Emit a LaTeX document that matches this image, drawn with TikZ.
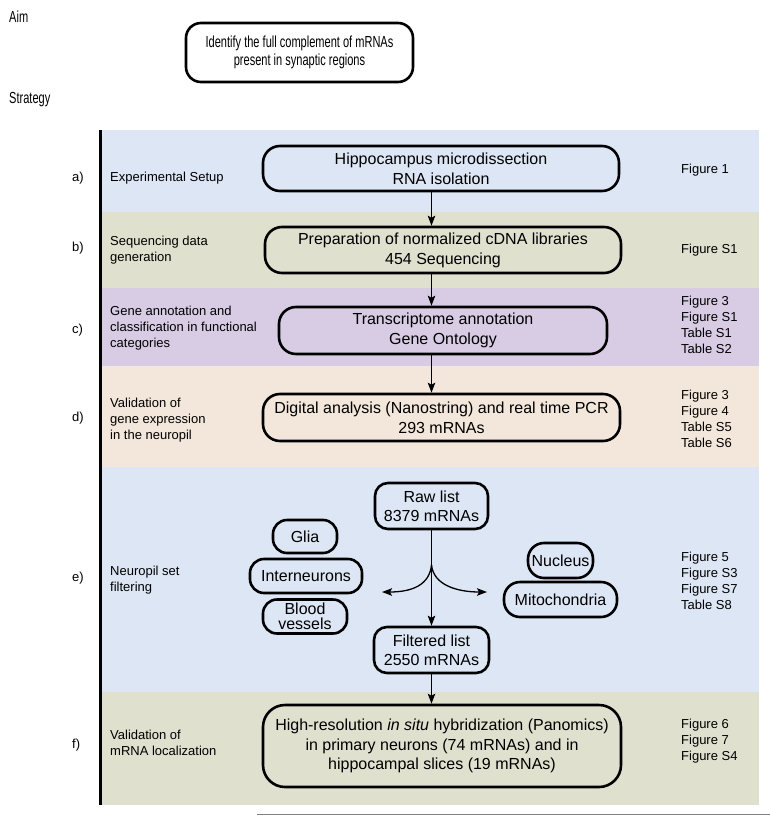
\documentclass[tikz,border=0pt]{standalone}
\usepackage{fontspec}
\setmainfont{Liberation Sans}
\newfontfamily\narrowfont[FakeStretch=0.69]{Liberation Sans}
\usetikzlibrary{arrows.meta}
\definecolor{bandblue}{RGB}{221,230,244}
\definecolor{bandolive}{RGB}{224,224,207}
\definecolor{bandlilac}{RGB}{216,204,228}
\definecolor{bandpeach}{RGB}{243,231,219}
\begin{document}
\begin{tikzpicture}[x=1pt,y=-1pt,
  mainbox/.style={draw, line width=2.6pt, rounded corners=17pt, inner sep=0pt, align=center, font=\fontsize{16}{20}\selectfont},
  smallbox/.style={draw, line width=2.6pt, rounded corners=14pt, inner sep=0pt, align=center, font=\fontsize{16}{19}\selectfont},
  aimbox/.style={draw, line width=2.6pt, rounded corners=15pt, inner sep=0pt, align=center, font=\narrowfont\fontsize{16}{18}\selectfont},
  headtxt/.style={anchor=west, inner sep=0pt, font=\narrowfont\fontsize{16}{18}\selectfont},
  lbl/.style={anchor=west, align=left, inner sep=0pt, font=\fontsize{13}{16}\selectfont},
  flow/.style={-{Stealth[length=10pt,width=7.5pt,inset=2pt]}, line width=1.3pt}
]
\useasboundingbox (0,0) rectangle (770,816);
% bands
\fill[bandblue]  (101,130) rectangle (759,212);
\fill[bandolive] (101,212) rectangle (759,288);
\fill[bandlilac] (101,288) rectangle (759,366);
\fill[bandpeach] (101,366) rectangle (759,467);
\fill[bandblue]  (101,467) rectangle (759,692);
\fill[bandolive] (101,692) rectangle (759,805);
\draw[line width=3pt] (100,130) -- (100,805);
\draw[gray, line width=1pt] (257,814) -- (770,814);

% headings
\node[headtxt] (aim) at (9,17) {Aim};
\node[headtxt] (strat) at (9,100) {Strategy};
\node[aimbox, minimum width=227pt, minimum height=59pt] (aimb) at (299.5,52.5) {Identify the full complement of mRNAs\\present in synaptic regions};

% step letters
\node[lbl] (la) at (72,178) {a)};
\node[lbl] (lb) at (72,248) {b)};
\node[lbl] (lc) at (72,330) {c)};
\node[lbl] (ld) at (72,418) {d)};
\node[lbl] (le) at (72,578) {e)};
\node[lbl] (lf) at (72,745) {f)};

% step labels
\node[lbl] (ta) at (110,178) {Experimental Setup};
\node[lbl] (tb) at (110,250) {Sequencing data\\generation};
\node[lbl] (tc) at (110,328) {Gene annotation and\\classification in functional\\categories};
\node[lbl] (td) at (110,420) {Validation of\\gene expression\\in the neuropil};
\node[lbl] (te) at (110,580) {Neuropil set\\filtering};
\node[lbl] (tf) at (110,743) {Validation of\\mRNA localization};

% figure references
\node[lbl] (fa) at (681,170) {Figure 1};
\node[lbl] (fb) at (681,250) {Figure S1};
\node[lbl] (fc) at (681,325) {Figure 3\\Figure S1\\Table S1\\Table S2};
\node[lbl] (fd) at (681,419) {Figure 3\\Figure 4\\Table S5\\Table S6};
\node[lbl] (fe) at (681,581) {Figure 5\\Figure S3\\Figure S7\\Table S8};
\node[lbl] (ff) at (681,741) {Figure 6\\Figure 7\\Figure S4};

% main boxes
\node[mainbox, minimum width=356pt, minimum height=45pt] (sa) at (441,168.5) {Hippocampus microdissection\\RNA isolation};
\node[mainbox, minimum width=356pt, minimum height=46pt] (sb) at (443,250) {Preparation of normalized cDNA libraries\\454 Sequencing};
\node[mainbox, minimum width=328pt, minimum height=47pt] (sc) at (443,330.5) {Transcriptome annotation\\Gene Ontology};
\node[mainbox, minimum width=357pt, minimum height=47pt] (sd) at (441.5,417.5) {Digital analysis (Nanostring) and real time PCR\\293 mRNAs};
\node[smallbox, rounded corners=13pt, minimum width=113pt, minimum height=46pt] (raw) at (431.5,506) {Raw list\\8379 mRNAs};
\node[smallbox, rounded corners=13pt, minimum width=115pt, minimum height=46pt] (filt) at (431.5,650) {Filtered list\\2550 mRNAs};
\node[smallbox, minimum width=64pt, minimum height=33pt] (glia) at (305,536.5) {Glia};
\node[smallbox, minimum width=112pt, minimum height=34pt] (inter) at (306,576) {Interneurons};
\node[smallbox, minimum width=84pt, minimum height=34pt, font=\fontsize{16}{15}\selectfont] (blood) at (305,616.5) {Blood\\vessels};
\node[smallbox, minimum width=65pt, minimum height=35pt, rounded corners=16pt] (nuc) at (560.5,560.5) {Nucleus};
\node[smallbox, minimum width=113pt, minimum height=35pt, rounded corners=16pt] (mito) at (560.5,599.5) {Mitochondria};
\node[mainbox, minimum width=358pt, minimum height=82pt, rounded corners=22pt, font=\fontsize{16}{19.5}\selectfont] (sf) at (442,746) {High-resolution \textit{in situ} hybridization (Panomics)\\in primary neurons (74 mRNAs) and in\\hippocampal slices (19 mRNAs)};

% connectors
\draw[flow] (sa.south -| raw.center) -- (sb.north -| raw.center);
\draw[flow] (sb.south -| raw.center) -- (sc.north -| raw.center);
\draw[flow] (sc.south -| raw.center) -- (sd.north -| raw.center);
\draw[flow] (raw.south) -- (filt.north);
\draw[flow] (filt.south) -- (sf.north -| filt.center);
\coordinate (br) at (431.5,565);
\coordinate (lt) at (382,592);
\coordinate (rt) at (487,592);
\draw[flow] (br) .. controls +(-2,20) and +(30,0) .. (lt);
\draw[flow] (br) .. controls +(2,20) and +(-30,0) .. (rt);
\end{tikzpicture}
\end{document}
